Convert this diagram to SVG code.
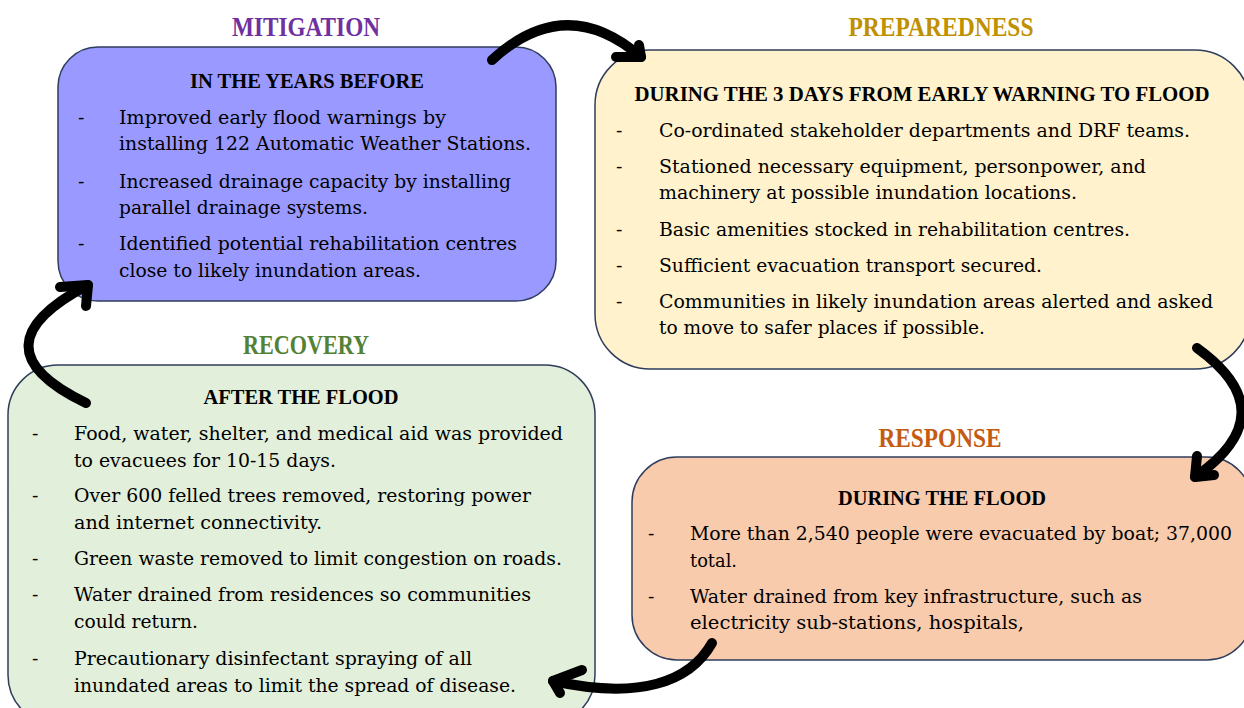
<svg xmlns="http://www.w3.org/2000/svg" width="1244" height="708" viewBox="0 0 1244 708">
<style>
.box{stroke:#2F3E5C;stroke-width:1.5}
.title{font-family:"Liberation Serif","DejaVu Serif",serif;font-weight:bold;font-size:27px;text-anchor:middle}
.head{font-family:"Liberation Serif","DejaVu Serif",serif;font-weight:bold;font-size:22px;text-anchor:middle;fill:#000}
.body{font-family:"DejaVu Serif","Liberation Serif",serif;font-size:19px;fill:#000}
.dash{font-family:"DejaVu Serif","Liberation Serif",serif;font-size:19px;fill:#000}
.arr{fill:none;stroke:#000;stroke-width:10;stroke-linecap:round;stroke-linejoin:round}
</style>
<rect width="1244" height="708" fill="#fff"/>

<g id="mitigation">
<text class="title" x="306" y="36" fill="#7030A0" textLength="148" lengthAdjust="spacingAndGlyphs">MITIGATION</text>
<rect class="box" x="58" y="47" width="498" height="254" rx="40" fill="#9999FF"/>
<text class="head" x="307" y="88" textLength="234" lengthAdjust="spacingAndGlyphs">IN THE YEARS BEFORE</text>
<text class="dash" x="78" y="124">-</text>
<text class="body" x="119" y="124" textLength="327" lengthAdjust="spacingAndGlyphs">Improved early flood warnings by</text>
<text class="body" x="119" y="150" textLength="412" lengthAdjust="spacingAndGlyphs">installing 122 Automatic Weather Stations.</text>
<text class="dash" x="78" y="188">-</text>
<text class="body" x="119" y="188" textLength="392" lengthAdjust="spacingAndGlyphs">Increased drainage capacity by installing</text>
<text class="body" x="119" y="214" textLength="249" lengthAdjust="spacingAndGlyphs">parallel drainage systems.</text>
<text class="dash" x="78" y="250">-</text>
<text class="body" x="119" y="250" textLength="398" lengthAdjust="spacingAndGlyphs">Identified potential rehabilitation centres</text>
<text class="body" x="119" y="277" textLength="302" lengthAdjust="spacingAndGlyphs">close to likely inundation areas.</text>
</g>

<g id="preparedness">
<text class="title" x="941" y="36" fill="#BF9000" textLength="185" lengthAdjust="spacingAndGlyphs">PREPAREDNESS</text>
<rect class="box" x="595" y="50" width="655" height="319" rx="55" fill="#FFF2CC"/>
<text class="head" x="922" y="101" textLength="575" lengthAdjust="spacingAndGlyphs">DURING THE 3 DAYS FROM EARLY WARNING TO FLOOD</text>
<text class="dash" x="616" y="137">-</text>
<text class="body" x="659" y="137" textLength="531" lengthAdjust="spacingAndGlyphs">Co-ordinated stakeholder departments and DRF teams.</text>
<text class="dash" x="616" y="173">-</text>
<text class="body" x="659" y="173" textLength="487" lengthAdjust="spacingAndGlyphs">Stationed necessary equipment, personpower, and</text>
<text class="body" x="659" y="199" textLength="418" lengthAdjust="spacingAndGlyphs">machinery at possible inundation locations.</text>
<text class="dash" x="616" y="236">-</text>
<text class="body" x="659" y="236" textLength="471" lengthAdjust="spacingAndGlyphs">Basic amenities stocked in rehabilitation centres.</text>
<text class="dash" x="616" y="272">-</text>
<text class="body" x="659" y="272" textLength="383" lengthAdjust="spacingAndGlyphs">Sufficient evacuation transport secured.</text>
<text class="dash" x="616" y="308">-</text>
<text class="body" x="659" y="308" textLength="554" lengthAdjust="spacingAndGlyphs">Communities in likely inundation areas alerted and asked</text>
<text class="body" x="659" y="334" textLength="326" lengthAdjust="spacingAndGlyphs">to move to safer places if possible.</text>
</g>

<g id="recovery">
<text class="title" x="306" y="354" fill="#538135" textLength="126" lengthAdjust="spacingAndGlyphs">RECOVERY</text>
<rect class="box" x="8" y="365" width="587" height="360" rx="50" fill="#E2EFDA"/>
<text class="head" x="301" y="404" textLength="195" lengthAdjust="spacingAndGlyphs">AFTER THE FLOOD</text>
<text class="dash" x="32" y="440">-</text>
<text class="body" x="74" y="440" textLength="489" lengthAdjust="spacingAndGlyphs">Food, water, shelter, and medical aid was provided</text>
<text class="body" x="74" y="467" textLength="262" lengthAdjust="spacingAndGlyphs">to evacuees for 10-15 days.</text>
<text class="dash" x="32" y="502">-</text>
<text class="body" x="74" y="502" textLength="457" lengthAdjust="spacingAndGlyphs">Over 600 felled trees removed, restoring power</text>
<text class="body" x="74" y="529" textLength="248" lengthAdjust="spacingAndGlyphs">and internet connectivity.</text>
<text class="dash" x="32" y="565">-</text>
<text class="body" x="74" y="565" textLength="488" lengthAdjust="spacingAndGlyphs">Green waste removed to limit congestion on roads.</text>
<text class="dash" x="32" y="601">-</text>
<text class="body" x="74" y="601" textLength="457" lengthAdjust="spacingAndGlyphs">Water drained from residences so communities</text>
<text class="body" x="74" y="628" textLength="124" lengthAdjust="spacingAndGlyphs">could return.</text>
<text class="dash" x="32" y="665">-</text>
<text class="body" x="74" y="665" textLength="398" lengthAdjust="spacingAndGlyphs">Precautionary disinfectant spraying of all</text>
<text class="body" x="74" y="692" textLength="442" lengthAdjust="spacingAndGlyphs">inundated areas to limit the spread of disease.</text>
</g>

<g id="response">
<text class="title" x="940" y="447" fill="#C55A11" textLength="123" lengthAdjust="spacingAndGlyphs">RESPONSE</text>
<rect class="box" x="632" y="457" width="620" height="203" rx="45" fill="#F8CBAD"/>
<text class="head" x="942" y="505" textLength="208" lengthAdjust="spacingAndGlyphs">DURING THE FLOOD</text>
<text class="dash" x="648" y="540">-</text>
<text class="body" x="690" y="540" textLength="542" lengthAdjust="spacingAndGlyphs">More than 2,540 people were evacuated by boat; 37,000</text>
<text class="body" x="690" y="567" textLength="47" lengthAdjust="spacingAndGlyphs">total.</text>
<text class="dash" x="648" y="603">-</text>
<text class="body" x="690" y="603" textLength="452" lengthAdjust="spacingAndGlyphs">Water drained from key infrastructure, such as</text>
<text class="body" x="690" y="629" textLength="334" lengthAdjust="spacingAndGlyphs">electricity sub-stations, hospitals,</text>
</g>

<g id="connectors">
<path class="arr" d="M492,60 Q566,-8 641,57"/>
<path class="arr" d="M639,45 L641,57 L616,57"/>
<path class="arr" d="M1197,348 Q1287,413 1195,477"/>
<path class="arr" d="M1197,456 L1195,477 L1214,475"/>
<path class="arr" d="M712,643 C690,682 640,700 553,681"/>
<path class="arr" d="M582,670 L553,681 L560,693"/>
<path class="arr" d="M86,403 Q-30,347 88,285"/>
<path class="arr" d="M60,287 L88,285 L86,306"/>
</g>
</svg>
